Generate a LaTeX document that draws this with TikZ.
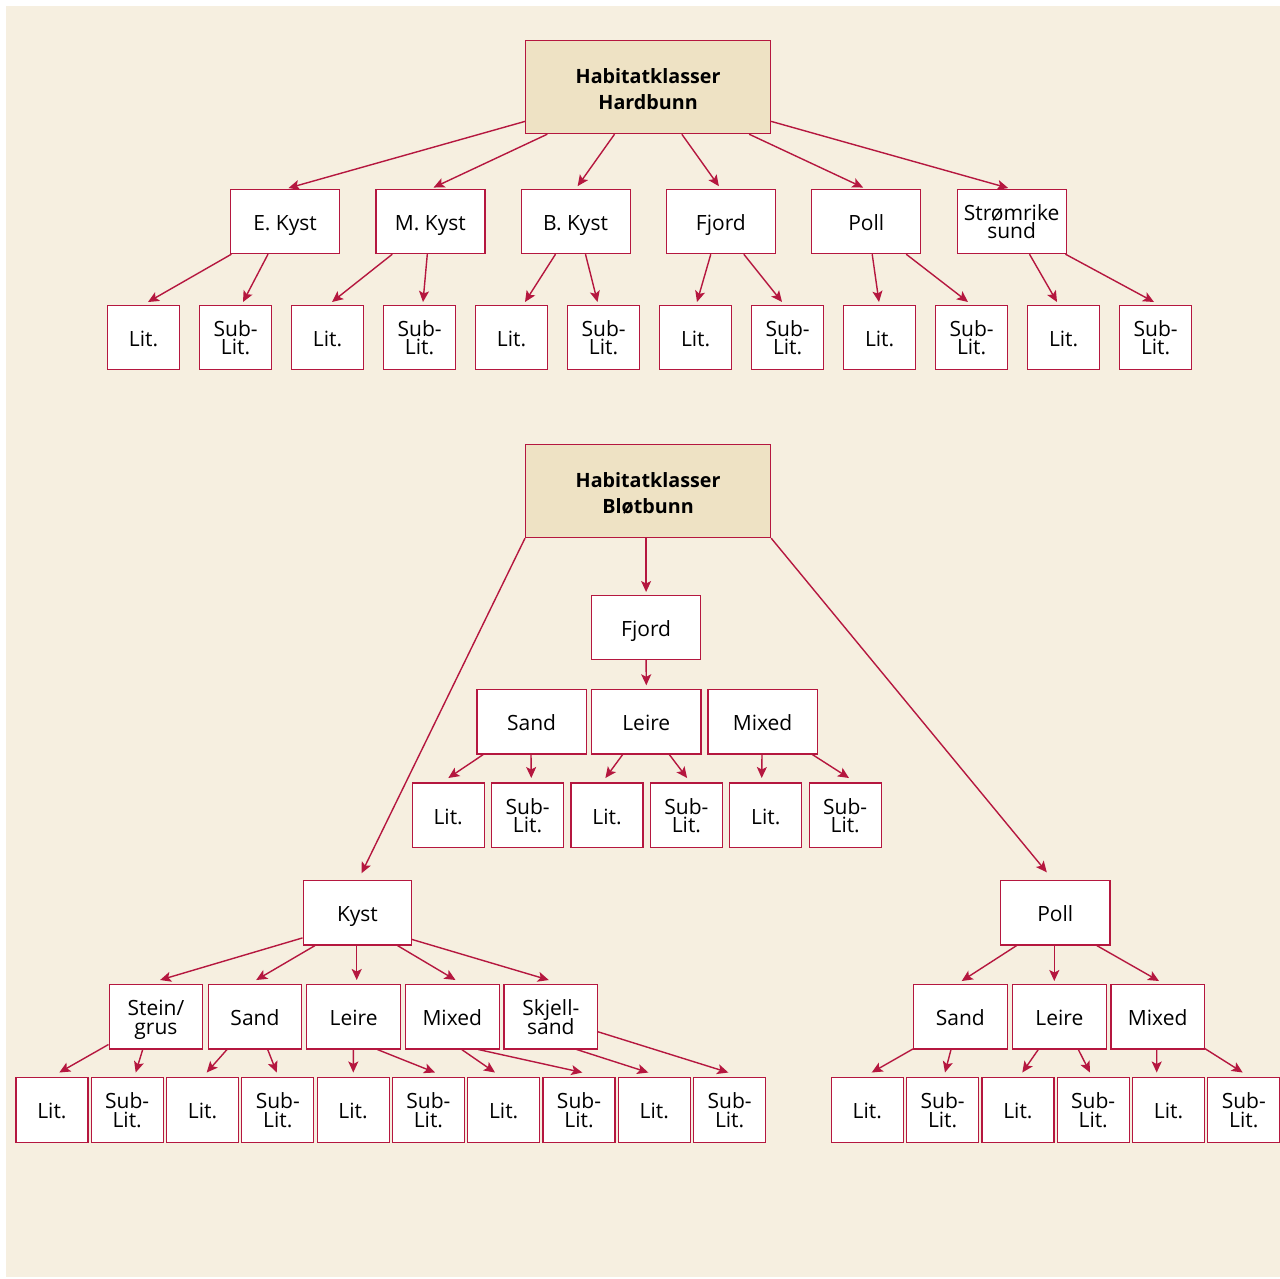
\documentclass[tikz,border=0pt]{standalone}
\usepackage{fontspec}
\setmainfont{Open Sans}
\usetikzlibrary{arrows.meta,calc}
\definecolor{bg}{HTML}{F6EFE0}
\definecolor{rootfill}{HTML}{EEE2C4}
\definecolor{crim}{HTML}{B5173F}
\tikzset{
  box/.style={draw=crim, line width=1.2pt, fill=white, anchor=north west, inner sep=0pt,
    align=center, font=\fontsize{21}{18.5}\selectfont},
  one/.style={box, text height=21pt, text depth=3pt},
  rootbox/.style={box, fill=rootfill, font=\fontsize{19.7}{26}\selectfont\bfseries},
  arr/.style={draw=crim, line width=1.4pt, -{Stealth[length=11pt,width=10pt,inset=2.5pt]}},
}
\newcommand\two[2]{\rule{0pt}{16pt}\smash{#1}\\\smash{#2}}
\newcommand\bx[6][box]{\node[#1, minimum width=#4pt, minimum height=#5pt] (#2) at #3 {#6};}
\newcommand\conn[6]{\draw[arr] ($(#1.south west)+(#2,#3)$) -- ($(#4.north west)+(#5,#6)$);}
\begin{document}
\begin{tikzpicture}[x=1pt,y=-1pt]
\useasboundingbox (0,0) rectangle (1280,1278);
\fill[white] (0,0) rectangle (1280,1278);
\fill[bg] (6,6) rectangle (1280,1277);

% ---------- Hardbunn ----------
\bx[rootbox]{hroot}{(525,39.5)}{245}{93.5}{\rule{0pt}{20pt}Habitatklasser\\Hardbunn}
\bx[one]{ek}{(230,189)}{109}{64}{E. Kyst}
\bx[one]{mk}{(375.3,189)}{109}{64}{M. Kyst}
\bx[one]{bk}{(520.5,189)}{109}{64}{B. Kyst}
\bx[one]{fj}{(665.8,189)}{109}{64}{Fjord}
\bx[one]{po}{(811.2,189)}{109}{64}{Poll}
\bx{st}{(956.5,189)}{109}{64}{\two{Strømrike}{sund}}
\foreach \i in {0,2,...,10}{\bx[one]{t\i}{({107+92*\i},305)}{72}{64}{Lit.}}
\foreach \i in {1,3,...,11}{\bx{t\i}{({107+92*\i},305)}{72}{64}{\two{Sub-}{Lit.}}}

\foreach \c in {ek,mk,bk,fj,po,st}{\draw[arr, shorten >=3.5pt] (hroot) -- (\c.north);}
\conn{ek}{1.4}{0}{t0}{41}{-3}
\conn{ek}{38}{0}{t1}{44}{-3}
\conn{mk}{17}{0}{t2}{41}{-3}
\conn{mk}{52}{0}{t3}{40}{-3}
\conn{bk}{35}{0}{t4}{50}{-3}
\conn{bk}{65}{0}{t5}{30.5}{-3}
\conn{fj}{45}{0}{t6}{38}{-3}
\conn{fj}{78}{0}{t7}{31}{-3}
\conn{po}{61}{0}{t8}{36}{-3}
\conn{po}{95}{0}{t9}{33}{-3}
\conn{st}{73}{0}{t10}{30}{-3}
\conn{st}{109}{0}{t11}{35}{-3}

% ---------- Bløtbunn ----------
\bx[rootbox]{broot}{(525,443.5)}{245}{93.5}{\rule{0pt}{20pt}Habitatklasser\\Bløtbunn}
\bx[one]{ffj}{(591,595)}{109}{64}{Fjord}
\bx[one]{fsa}{(476.3,688.7)}{109.4}{64.6}{Sand}
\bx[one]{fle}{(591,688.7)}{109.4}{64.6}{Leire}
\bx[one]{fmi}{(707.3,688.7)}{109.4}{64.6}{Mixed}
\foreach \i in {0,2,4}{\bx[one]{f\i}{({411.6+79.4*\i},782.3)}{72}{64.7}{Lit.}}
\foreach \i in {1,3,5}{\bx{f\i}{({411.6+79.4*\i},782.3)}{72}{64.7}{\two{Sub-}{Lit.}}}

\bx[one]{ky}{(302.5,880)}{108.7}{64.3}{Kyst}
\bx{kst}{(108.5,984)}{93.7}{64.3}{\two{Stein/}{grus}}
\bx[one]{ksa}{(207.5,984)}{93.7}{64.3}{Sand}
\bx[one]{kle}{(306.2,984)}{93.7}{64.3}{Leire}
\bx[one]{kmi}{(404.8,984)}{93.7}{64.3}{Mixed}
\bx{ksk}{(503.4,984)}{93.7}{64.3}{\two{Skjell-}{sand}}
\foreach \i in {0,2,...,8}{\bx[one]{c\i}{({15.3+75.3*\i},1077)}{72}{64.7}{Lit.}}
\foreach \i in {1,3,...,9}{\bx{c\i}{({15.3+75.3*\i},1077)}{72}{64.7}{\two{Sub-}{Lit.}}}

\bx[one]{pl}{(1000,880)}{109.3}{64.3}{Poll}
\bx[one]{psa}{(913,984)}{93.5}{64.3}{Sand}
\bx[one]{ple}{(1012,984)}{93.5}{64.3}{Leire}
\bx[one]{pmi}{(1110.3,984)}{93.5}{64.3}{Mixed}
\foreach \i in {0,2,4}{\bx[one]{p\i}{({830.7+75.3*\i},1077)}{72}{64.7}{Lit.}}
\foreach \i in {1,3,5}{\bx{p\i}{({830.7+75.3*\i},1077)}{72}{64.7}{\two{Sub-}{Lit.}}}

% connectors
\draw[arr] (ffj.north |- broot.south) -- ([yshift=3pt]ffj.north);
\draw[arr] (ffj.south) -- ([yshift=3.4pt]fle.north);
\draw[arr] (broot.south west) -- ($(ky.north west)+(59,-6.7)$);
\draw[arr] (broot.south east) -- ($(pl.north west)+(46.8,-7.7)$);

\conn{fsa}{7}{0}{f0}{36.7}{-4.3}
\conn{fsa}{54.7}{0}{f1}{40.3}{-4.3}
\conn{fle}{31.7}{0}{f2}{35}{-4.3}
\conn{fle}{78.3}{0}{f3}{37.3}{-4.3}
\conn{fmi}{54.7}{0}{f4}{32.5}{-4.3}
\conn{fmi}{105}{0}{f5}{40.4}{-4.3}

\conn{ky}{0}{-7.6}{kst}{51.6}{-4}
\conn{ky}{12.6}{0}{ksa}{48.7}{-4}
\conn{ky}{54.2}{0}{kle}{50.5}{-4}
\conn{ky}{94.9}{0}{kmi}{50.7}{-4}
\conn{ky}{108.7}{-6.3}{ksk}{45.4}{-4}

\conn{kst}{0}{-5}{c0}{44}{-4.5}
\conn{kst}{34.2}{0}{c1}{45.1}{-4.5}
\conn{ksa}{19.5}{0}{c2}{40.8}{-4.5}
\conn{ksa}{60.2}{0}{c3}{35.5}{-4.5}
\conn{kle}{47.1}{0}{c4}{36.8}{-4.5}
\conn{kle}{71.1}{0}{c5}{43.2}{-4.5}
\conn{kmi}{56.9}{0}{c6}{27.9}{-4.5}
\conn{kmi}{73.5}{0}{c7}{39.9}{-4.5}
\conn{ksk}{73.3}{0}{c8}{30.6}{-4.5}
\conn{ksk}{93.7}{-18}{c9}{35.3}{-4.5}

\conn{pl}{16.7}{0}{psa}{48.7}{-3}
\conn{pl}{54.3}{0}{ple}{42.3}{-3}
\conn{pl}{96.7}{0}{pmi}{48.7}{-3}
\conn{psa}{0}{-0.6}{p0}{41}{-4.5}
\conn{psa}{38}{0}{p1}{39}{-4.5}
\conn{ple}{26.3}{0}{p2}{41}{-4.5}
\conn{ple}{66.3}{0}{p3}{33.4}{-4.5}
\conn{pmi}{46.4}{0}{p4}{24.8}{-4.5}
\conn{pmi}{93.5}{-1.6}{p5}{35.5}{-4.5}
\end{tikzpicture}
\end{document}
